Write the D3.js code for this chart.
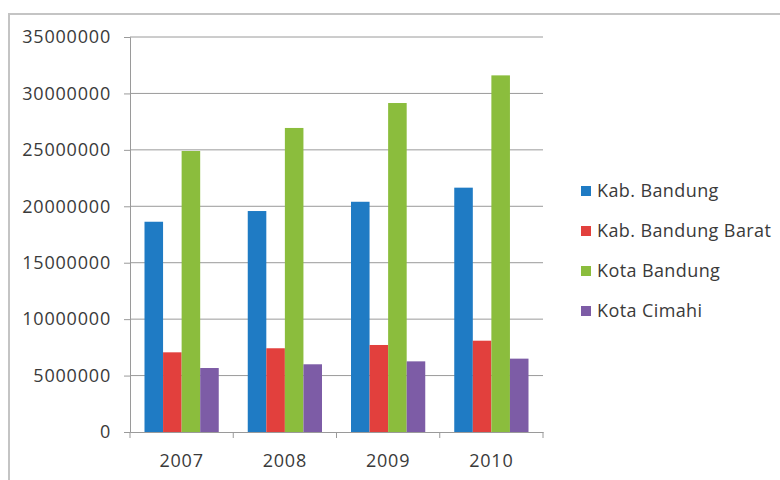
<!DOCTYPE html>
<html><head><meta charset="utf-8">
<script src="https://cdn.jsdelivr.net/npm/d3@7"></script>
<style>body{margin:0;background:#fff}svg{display:block}text{font-family:"Open Sans",sans-serif;fill:#3a3a3a}</style>
</head><body><svg id="c" width="780" height="480"></svg>
<script>
const categories = ["2007","2008","2009","2010"];
const seriesNames = ["Kab. Bandung","Kab. Bandung Barat","Kota Bandung","Kota Cimahi"];
const kabBandung = [18630000,19580000,20400000,21650000];
const kabBandungBarat = [7060000,7420000,7710000,8090000];
const kotaBandung = [24900000,26940000,29150000,31600000];
const kotaCimahi = [5670000,6000000,6260000,6500000];
const yTicks = [0,5000000,10000000,15000000,20000000,25000000,30000000,35000000];
const colors = ["#1f7bc4","#e2403d","#8bbd3d","#7d5ca6"];
const seriesValues = [kabBandung,kabBandungBarat,kotaBandung,kotaCimahi];

const svg = d3.select("#c");
svg.append("rect").attr("x",9).attr("y",14).attr("width",800).attr("height",500)
  .attr("fill","#fff").attr("stroke","#c4c4c4").attr("stroke-width",2);

const L=130,R=543,T=37,B=432;
const y = d3.scaleLinear().domain([0,35000000]).range([B,T]);
const x0 = d3.scaleBand().domain(categories).range([L,R]).padding(0);
const gap = 14.5;
const x1 = d3.scaleBand().domain(seriesNames).range([gap, x0.bandwidth()-gap]).padding(0);

// gridlines
svg.append("g").selectAll("line").data(yTicks.slice(1)).join("line")
  .attr("x1",L).attr("x2",R).attr("y1",d=>y(d)).attr("y2",d=>y(d))
  .attr("stroke","#9a9a9a").attr("stroke-width",1);

// y axis
const ya = svg.append("g").attr("transform",`translate(${L},0)`)
  .call(d3.axisLeft(y).tickValues(yTicks).tickFormat(d3.format("d")).tickSize(6).tickPadding(13));
ya.select(".domain").attr("stroke","#9a9a9a");
ya.selectAll(".tick line").attr("stroke","#9a9a9a");
ya.selectAll("text").style("font-size","18px").style("letter-spacing","0.8px").attr("fill","#3a3a3a");

// bars
const g = svg.append("g");
categories.forEach((c,ci)=>{
  g.append("g").attr("transform",`translate(${x0(c)},0)`)
   .selectAll("rect").data(seriesNames.map((s,si)=>({s,v:seriesValues[si][ci],i:si}))).join("rect")
   .attr("x",d=>x1(d.s)).attr("width",x1.bandwidth())
   .attr("y",d=>y(d.v)).attr("height",d=>B-y(d.v)).attr("fill",d=>colors[d.i]);
});

// x axis
const xa = svg.append("g").attr("transform",`translate(0,${B})`)
  .call(d3.axisBottom(x0).tickSize(0).tickPadding(22));
xa.select(".domain").attr("stroke","#9a9a9a");
xa.selectAll("text").style("font-size","18px").style("letter-spacing","0.8px").attr("fill","#3a3a3a");
const bounds = categories.map(c=>x0(c)).concat([R]);
svg.append("g").selectAll("line").data(bounds).join("line")
  .attr("x1",d=>d).attr("x2",d=>d).attr("y1",B).attr("y2",B+6).attr("stroke","#9a9a9a");

// legend
const lg = svg.append("g").attr("transform","translate(581,190)");
const items = lg.selectAll("g").data(seriesNames).join("g").attr("transform",(d,i)=>`translate(0,${i*40})`);
items.append("rect").attr("x",0).attr("y",-4).attr("width",10).attr("height",10).attr("fill",(d,i)=>colors[i]);
items.append("text").attr("x",16).attr("y",7).text(d=>d).style("font-size","18px").style("letter-spacing","0.4px");
</script></body></html>
